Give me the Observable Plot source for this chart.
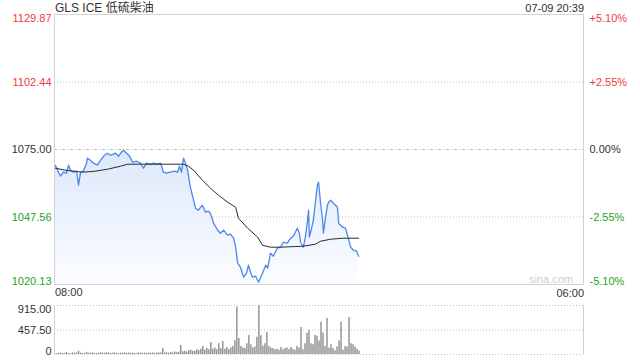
<!DOCTYPE html>
<html><head><meta charset="utf-8">
<script src="https://cdn.jsdelivr.net/npm/d3@7"></script>
<script src="https://cdn.jsdelivr.net/npm/@observablehq/plot@0.6"></script>
<style>
body{margin:0;background:#fff;font-family:"Liberation Sans",Arial,"Noto Sans CJK SC",sans-serif;}
#wrap{position:relative;width:640px;height:360px;overflow:hidden;background:#fff;}
#wrap > *{position:absolute;}
.t{white-space:nowrap;color:#333;}
</style></head><body><div id="wrap"></div>
<script>
const title = "GLS ICE 低硫柴油";
const stamp = "07-09 20:39";
const timeLabels = ["08:00", "06:00"];
const priceTicks = [1129.87, 1102.44, 1075.00, 1047.56, 1020.13];
const priceTickLabels = ["1129.87", "1102.44", "1075.00", "1047.56", "1020.13"];
const pctTickLabels = ["+5.10%", "+2.55%", "0.00%", "-2.55%", "-5.10%"];
const volTicks = [915, 457.5, 0];
const volTickLabels = ["915.00", "457.50", "0"];
const prevClose = 1075.00;
const sessionMinutes = 1320; // 08:00 -> 06:00 next day

// minutes since 08:00 and price
const priceMin = [2,10,15,22,30,35,40,47,55,60,65,72,80,82,90,97,107,115,125,132,140,147,152,160,167,172,180,185,190,195,205,215,222,230,240,247,257,265,272,279,289,299,307,312,317,322,327,332,339,347,352,359,369,377,384,389,397,407,414,422,432,439,447,452,457,464,472,479,484,489,494,502,509,519,527,532,539,546,556,564,571,581,589,596,606,611,614,621,626,631,634,636,641,646,651,656,659,664,669,671,676,681,684,689,696,706,709,719,726,731,739,746,754,759];
const price = [1068.62,1065.77,1064.15,1065.77,1065.37,1068.62,1066.59,1065.77,1066.18,1060.49,1065.77,1066.18,1069.43,1071.46,1070.65,1069.43,1068.62,1070.65,1072.68,1073.50,1072.68,1073.09,1073.50,1072.28,1073.90,1074.72,1073.50,1072.68,1071.46,1069.84,1070.24,1069.43,1067.40,1069.43,1069.03,1069.43,1069.03,1069.43,1065.77,1065.37,1065.77,1066.18,1065.77,1068.21,1065.77,1071.46,1069.43,1066.59,1059.68,1054.39,1051.14,1050.33,1052.36,1049.52,1049.92,1049.11,1045.05,1042.20,1040.98,1042.20,1040.17,1040.57,1038.95,1035.29,1028.79,1027.16,1023.10,1024.72,1027.97,1025.13,1023.10,1023.50,1021.07,1024.72,1027.97,1026.76,1032.85,1031.63,1034.88,1035.29,1037.32,1036.92,1038.95,1039.76,1043.01,1040.98,1037.32,1035.29,1039.36,1045.45,1050.33,1039.36,1042.61,1046.26,1053.58,1060.49,1061.71,1053.17,1046.26,1040.98,1047.08,1052.36,1053.58,1054.39,1053.17,1051.55,1045.05,1043.42,1043.01,1040.17,1035.29,1034.07,1033.67,1031.63];

const avgMin = [2,27,70,102,132,165,182,322,334,347,369,389,409,432,452,459,482,507,519,539,564,621,651,664,689,721,759];
const avgPrice = [1067.40,1066.59,1065.77,1066.18,1066.99,1068.21,1069.03,1069.03,1068.21,1066.59,1062.52,1059.27,1056.43,1053.58,1051.55,1047.08,1043.01,1039.36,1036.10,1035.29,1035.29,1035.70,1036.51,1037.73,1038.54,1038.95,1038.95];

// volume in 5-minute bins starting 08:00
const volStep = 5;
const volume = [20,15,25,30,18,22,35,20,15,28,25,30,60,25,20,18,40,22,25,30,20,18,24,30,26,22,35,28,20,25,30,22,18,26,24,30,20,28,22,25,18,20,30,24,22,26,20,28,24,30,22,26,30,28,
115,30,35,25,40,30,45,35,40,170,50,60,45,70,80,60,55,90,70,100,150,80,110,90,225,100,120,
90,200,110,245,100,130,90,120,150,260,880,300,150,120,110,200,
355,180,120,140,320,915,350,160,200,410,150,120,110,90,100,80,130,90,110,120,90,130,100,80,150,120,505,90,200,390,450,200,180,355,340,250,600,400,150,670,120,180,110,70,140,250,600,80,150,140,690,200,180,140,100,60];

const red = "#f03a3a", green = "#23a623", dark = "#333333";
const colorOf = v => v > prevClose + 0.001 ? red : v < prevClose - 0.001 ? green : dark;
const anchors5 = ["top", "middle", "middle", "middle", "bottom"];
const anchors3 = ["top", "middle", "bottom"];
const font = '"Liberation Sans", Arial, "Noto Sans CJK SC", sans-serif';

const pts = priceMin.map((m, i) => ({m, p: price[i]}));
const avg = avgMin.map((m, i) => ({m, p: avgPrice[i]}));
const vol = volume.map((v, i) => ({m: i * volStep, v}));

const defs = () => {
  const d = d3.create("svg:defs");
  const g = d.append("linearGradient").attr("id", "areaGrad").attr("x1", 0).attr("y1", 0).attr("x2", 0).attr("y2", 1);
  g.append("stop").attr("offset", "0%").attr("stop-color", "#dde8fb");
  g.append("stop").attr("offset", "100%").attr("stop-color", "#fcfdff");
  return d.node();
};

const leftLabels = (ticks, labels, anchors, colorFn) => ticks.map((v, i) =>
  Plot.text([v], {y: d => d, text: () => labels[i], frameAnchor: "left", textAnchor: "end", dx: -3,
    lineAnchor: anchors[i], fill: colorFn(v), fontSize: 11}));
const rightLabels = ticks => ticks.map((v, i) =>
  Plot.text([v], {y: d => d, text: () => pctTickLabels[i], frameAnchor: "right", textAnchor: "start", dx: 6,
    lineAnchor: anchors5[i], fill: colorOf(v), fontSize: 11}));

const main = Plot.plot({
  width: 640, height: 290,
  marginLeft: 54, marginRight: 57, marginTop: 14, marginBottom: 6,
  x: {domain: [0, sessionMinutes], axis: null},
  y: {domain: [priceTicks[4], priceTicks[0]], axis: null},
  style: {fontFamily: font, fontSize: "11px", background: "transparent", overflow: "visible"},
  marks: [
    defs,
    Plot.ruleY([priceTicks[1], priceTicks[3]], {stroke: "#c4c4c4", strokeDasharray: "1,2"}),
    Plot.ruleY([prevClose], {stroke: "#b8b8b8", strokeDasharray: "3,2,1,2"}),
    Plot.areaY(pts, {x: "m", y1: priceTicks[4], y2: "p", fill: "url(#areaGrad)"}),
    Plot.line(pts, {x: "m", y: "p", stroke: "#4a87ee", strokeWidth: 1.3}),
    Plot.line(avg, {x: "m", y: "p", stroke: "#2a2a2a", strokeWidth: 1}),
    Plot.frame({stroke: "#d2d2d2"}),
    ...leftLabels(priceTicks, priceTickLabels, anchors5, colorOf),
    ...rightLabels(priceTicks)
  ]
});
main.style.left = "0px"; main.style.top = "0px";

const volPlot = Plot.plot({
  width: 640, height: 64,
  marginLeft: 54, marginRight: 57, marginTop: 9, marginBottom: 6,
  x: {domain: [0, sessionMinutes], axis: null},
  y: {domain: [0, volTicks[0]], axis: null},
  style: {fontFamily: font, fontSize: "11px", background: "transparent", overflow: "visible"},
  marks: [
    Plot.ruleY(volTicks, {stroke: "#c4c4c4", strokeDasharray: "1,2"}),
    Plot.ruleX(vol, {x: "m", y1: 0, y2: "v", stroke: "#8e8e8e", strokeWidth: 1.4}),
    Plot.ruleX([0, sessionMinutes], {stroke: "#d2d2d2"}),
    ...leftLabels(volTicks, volTickLabels, anchors3, () => dark)
  ]
});
volPlot.style.left = "0px"; volPlot.style.top = "296px";

const wrap = document.getElementById("wrap");
wrap.appendChild(main);
wrap.appendChild(volPlot);

function addText(txt, css) {
  const d = document.createElement("div");
  d.className = "t";
  d.textContent = txt;
  Object.assign(d.style, css);
  wrap.appendChild(d);
}
addText(title, {left: "55px", top: "1px", fontSize: "12px", lineHeight: "14px"});
addText(stamp, {right: "56px", top: "2px", fontSize: "11px", lineHeight: "12px"});
addText(timeLabels[0], {left: "55px", top: "286px", fontSize: "11px", lineHeight: "12px"});
addText(timeLabels[1], {right: "56px", top: "287px", fontSize: "11px", lineHeight: "12px"});
addText("sina.com", {right: "67px", top: "273px", fontSize: "11px", lineHeight: "12px", color: "#cfcfcf"});
</script></body></html>
